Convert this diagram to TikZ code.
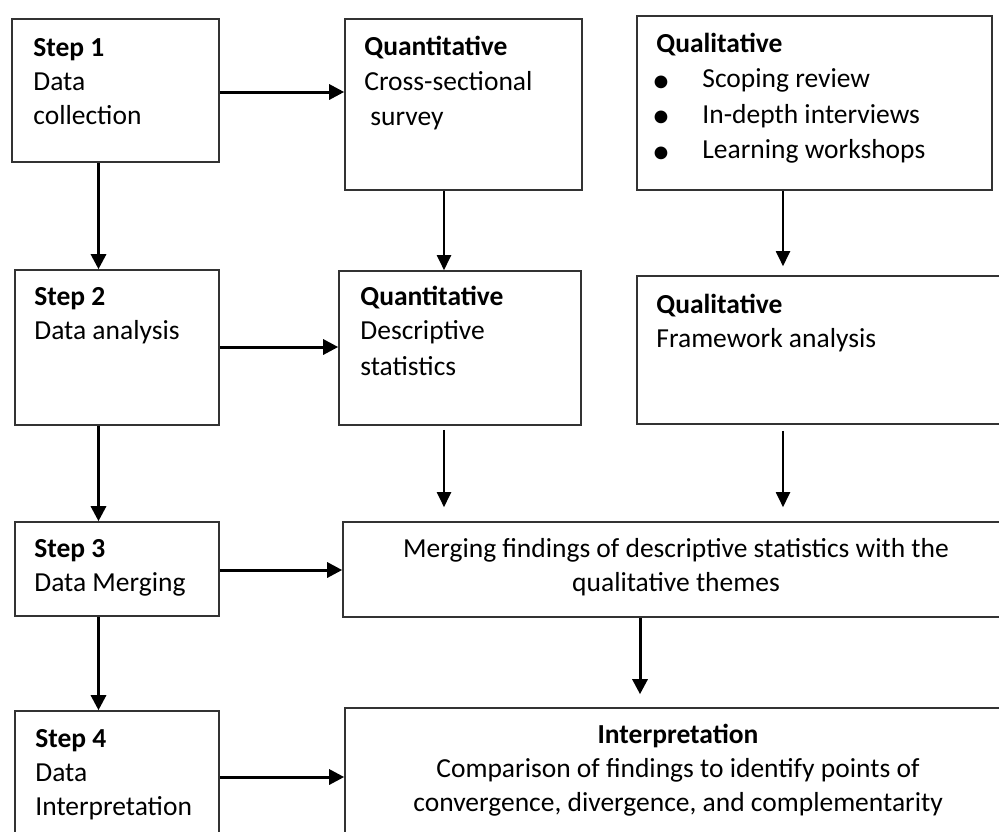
\documentclass[tikz,border=0pt]{standalone}
\usepackage{fontspec}
\setmainfont{Carlito}
\usetikzlibrary{arrows.meta,fit,calc}
\begin{document}
\begin{tikzpicture}[x=0.5pt,y=-0.5pt,
  box/.style={draw=black!80,line width=0.8pt,inner sep=0pt},
  txt/.style={anchor=base west,inner sep=0pt,font=\fontsize{13.75}{16}\selectfont},
  hd/.style={anchor=base west,inner sep=0pt,font=\fontsize{13.75}{16}\selectfont\bfseries},
  ctxt/.style={anchor=base,inner sep=0pt,font=\fontsize{13.75}{16}\selectfont},
  chd/.style={anchor=base,inner sep=0pt,font=\fontsize{13.75}{16}\selectfont\bfseries},
  bul/.style={anchor=base,inner sep=0pt,font=\fontsize{18}{18}\selectfont},
  thk/.style={line width=1.5pt,-{Triangle[length=7.5pt,width=7.5pt]}},
  thn/.style={line width=1pt,-{Triangle[length=7.5pt,width=7pt]}}]
\useasboundingbox (0,0) rectangle (999,831);
\clip (0,0) rectangle (999,831);
% boxes
\node[box,fit={(12,19)(219,162)}] (s1) {};
\node[box,fit={(345,19)(582,190)}] (q1) {};
\node[box,fit={(637,16)(992,190)}] (l1) {};
\node[box,fit={(15,270)(219,425)}] (s2) {};
\node[box,fit={(339,271)(581,425)}] (q2) {};
\node[box,fit={(637,276)(1010,424)}] (l2) {};
\node[box,fit={(15,522)(219,616)}] (s3) {};
\node[box,fit={(343,522)(1010,617)}] (m3) {};
\node[box,fit={(15,711)(219,850)}] (s4) {};
\node[box,fit={(345,708)(1010,850)}] (i4) {};
% texts
\node[hd] (s1a) at (33,56) {Step 1};
\node[txt] (s1b) at (33,90) {Data};
\node[txt] (s1c) at (33,124) {collection};
\node[hd] (q1a) at (364,55) {Quantitative};
\node[txt] (q1b) at (364,90) {Cross-sectional};
\node[txt] (q1c) at (370,125) {survey};
\node[hd] (l1a) at (656,52) {Qualitative};
\node[bul] (l1b1) at (661,92) {•};
\node[txt] (l1b) at (702,87) {Scoping review};
\node[bul] (l1c1) at (661,127) {•};
\node[txt] (l1c) at (702,123) {In-depth interviews};
\node[bul] (l1d1) at (661,163) {•};
\node[txt] (l1d) at (702,158) {Learning workshops};
\node[hd] (s2a) at (34,305) {Step 2};
\node[txt] (s2b) at (34,339) {Data analysis};
\node[hd] (q2a) at (360,305) {Quantitative};
\node[txt] (q2b) at (360,339) {Descriptive};
\node[txt] (q2c) at (360,375) {statistics};
\node[hd] (l2a) at (656,313) {Qualitative};
\node[txt] (l2b) at (656,347) {Framework analysis};
\node[hd] (s3a) at (34,557) {Step 3};
\node[txt] (s3b) at (34,591) {Data Merging};
\node[ctxt] (m3a) at (676,557) {Merging findings of descriptive statistics with the};
\node[ctxt] (m3b) at (676,591) {qualitative themes};
\node[hd] (s4a) at (35,747) {Step 4};
\node[txt] (s4b) at (35,781) {Data};
\node[txt] (s4c) at (35,815) {Interpretation};
\node[chd] (i4a) at (678,743) {Interpretation};
\node[ctxt] (i4b) at (678,777) {Comparison of findings to identify points of};
\node[ctxt] (i4c) at (678,811) {convergence, divergence, and complementarity};
% guide coordinates
\coordinate (cx1) at (98.5,0);
\coordinate (cx2) at (444,0);
\coordinate (cx3) at (783,0);
\coordinate (cx4) at (640,0);
\coordinate (cy1) at (0,92);
\coordinate (cy2) at (0,347);
\coordinate (cy3) at (0,570);
\coordinate (cy4) at (0,777);
% arrows
\draw[thk] (s1.east |- cy1) -- (q1.west |- cy1);
\draw[thk] (s2.east |- cy2) -- (q2.west |- cy2);
\draw[thk] (s3.east |- cy3) -- (m3.west |- cy3);
\draw[thk] (s4.east |- cy4) -- (i4.west |- cy4);
\draw[thk] (s1.south -| cx1) -- (s2.north -| cx1);
\draw[thk] (s2.south -| cx1) -- (s3.north -| cx1);
\draw[thk] (s3.south -| cx1) -- (s4.north -| cx1);
\draw[thn] (q1.south -| cx2) -- (q2.north -| cx2);
\draw[thn,shorten >=4.5pt] (l1.south -| cx3) -- (l2.north -| cx3);
\draw[thn,shorten <=2pt,shorten >=7pt] (q2.south -| cx2) -- (m3.north -| cx2);
\draw[thn,shorten <=3pt,shorten >=7pt] (l2.south -| cx3) -- (m3.north -| cx3);
\draw[thk,shorten >=6.5pt] (m3.south -| cx4) -- (i4.north -| cx4);
\end{tikzpicture}
\end{document}
